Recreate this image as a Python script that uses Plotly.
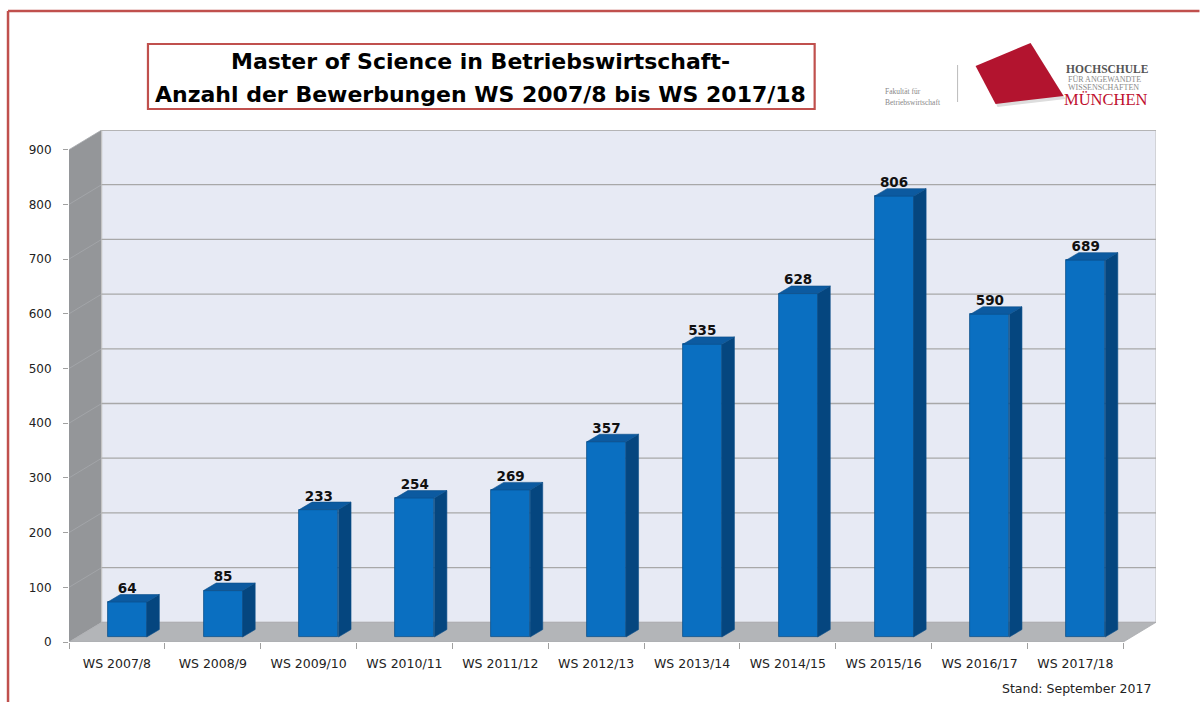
import plotly.graph_objects as go

# ---------------- data ----------------
categories = ["WS 2007/8", "WS 2008/9", "WS 2009/10", "WS 2010/11", "WS 2011/12",
              "WS 2012/13", "WS 2013/14", "WS 2014/15", "WS 2015/16", "WS 2016/17",
              "WS 2017/18"]
applications = [64, 85, 233, 254, 269, 357, 535, 628, 806, 590, 689]
y_ticks = [0, 100, 200, 300, 400, 500, 600, 700, 800, 900]

title_line1 = "Master of Science in Betriebswirtschaft-"
title_line2 = "Anzahl der Bewerbungen WS 2007/8 bis WS 2017/18"
footnote = "Stand: September 2017"

# ---------------- layout geometry / styles ----------------
W, H = 1200, 702
L, R, T, B = 69, 43.5, 130, 60
PW, PH = W - L - R, H - T - B

DEPTH_X = 0.341     # back-wall offset in category units
DEPTH_Y = 36.0      # back-wall offset in value units
Y_TOP = 936.0
BAR_BASE = 9.1      # bars stand mid-floor
BAR_OFF = -0.096
BAR_W = 0.407
SIDE_DX = 0.1315
SIDE_DY = 13.7
LABEL_GAP = 9.0

FRONT = "#0A6FC1"
SIDE = "#05467F"
TOP = "#0C5AA0"
EDGE = "#0B4F8A"
RED = "#C0504D"
FONT = "DejaVu Sans"

def px(x):
    return (x - L) / PW

def py(y):
    return (H - B - y) / PH

idx = list(range(len(categories)))
x_lo, x_hi = -0.5, len(categories) - 0.5

fig = go.Figure()

# front faces
fig.add_trace(go.Bar(
    x=idx, y=applications, base=BAR_BASE, width=BAR_W, offset=BAR_OFF,
    marker=dict(color=FRONT, line=dict(color=EDGE, width=0.8)),
    hoverinfo="skip", showlegend=False))

# side and top faces
sx, sy, tx, ty = [], [], [], []
for i, v in zip(idx, applications):
    xl = i + BAR_OFF
    xr = xl + BAR_W
    top = v + BAR_BASE
    sx += [xr, xr, xr + SIDE_DX, xr + SIDE_DX, xr, None]
    sy += [BAR_BASE, top, top + SIDE_DY, BAR_BASE + SIDE_DY, BAR_BASE, None]
    tx += [xl, xr, xr + SIDE_DX, xl + SIDE_DX, xl, None]
    ty += [top, top, top + SIDE_DY, top + SIDE_DY, top, None]
fig.add_trace(go.Scatter(x=sx, y=sy, mode="lines", fill="toself", fillcolor=SIDE,
                         line=dict(color=EDGE, width=0.6), hoverinfo="skip",
                         showlegend=False))
fig.add_trace(go.Scatter(x=tx, y=ty, mode="lines", fill="toself", fillcolor=TOP,
                         line=dict(color=EDGE, width=0.6), hoverinfo="skip",
                         showlegend=False))

# value labels
fig.add_trace(go.Scatter(
    x=[i + BAR_OFF + BAR_W / 2 for i in idx],
    y=[v + BAR_BASE + SIDE_DY + LABEL_GAP for v in applications],
    mode="text", text=[str(v) for v in applications], textposition="middle center",
    textfont=dict(family=FONT, size=13.5, color="#111111", weight="bold"),
    cliponaxis=False, hoverinfo="skip", showlegend=False))

shapes = []
# left wall
shapes.append(dict(type="path", xref="x", yref="y", layer="below",
                   path=f"M {x_lo},0 L {x_lo},{y_ticks[-1]} L {x_lo+DEPTH_X},{Y_TOP} "
                        f"L {x_lo+DEPTH_X},{DEPTH_Y} Z",
                   fillcolor="#949699", line=dict(width=0)))
# back wall
shapes.append(dict(type="rect", xref="x", yref="y", layer="below",
                   x0=x_lo + DEPTH_X, x1=x_hi + DEPTH_X, y0=DEPTH_Y, y1=Y_TOP,
                   fillcolor="#E7EAF4", line=dict(color="#C4C4C4", width=1.2)))
# floor
shapes.append(dict(type="path", xref="x", yref="y", layer="below",
                   path=f"M {x_lo},0 L {x_hi},0 L {x_hi+DEPTH_X},{DEPTH_Y} "
                        f"L {x_lo+DEPTH_X},{DEPTH_Y} Z",
                   fillcolor="#B3B5B8", line=dict(color="#A9ABAE", width=0.8)))
# gridlines on back wall and left wall
for v in y_ticks[1:]:
    shapes.append(dict(type="line", xref="x", yref="y", layer="below",
                       x0=x_lo + DEPTH_X, x1=x_hi + DEPTH_X, y0=v + DEPTH_Y, y1=v + DEPTH_Y,
                       line=dict(color="#A8A8A8", width=1.3)))
    shapes.append(dict(type="line", xref="x", yref="y", layer="below",
                       x0=x_lo, x1=x_lo + DEPTH_X, y0=v, y1=v + DEPTH_Y,
                       line=dict(color="#A6A8AC", width=0.8)))

# outer slide frame
shapes.append(dict(type="line", xref="paper", yref="paper", x0=px(8), x1=px(8),
                   y0=py(11), y1=py(702), line=dict(color=RED, width=2.5)))
shapes.append(dict(type="line", xref="paper", yref="paper", x0=px(8), x1=px(1200),
                   y0=py(11), y1=py(11), line=dict(color=RED, width=2.5)))
# title box
shapes.append(dict(type="rect", xref="paper", yref="paper", x0=px(148), x1=px(815),
                   y0=py(109), y1=py(44), line=dict(color=RED, width=2.2),
                   fillcolor="white"))
# logo
shapes.append(dict(type="line", xref="paper", yref="paper", x0=px(958), x1=px(958),
                   y0=py(65), y1=py(102), line=dict(color="#BBBBBB", width=1)))
shapes.append(dict(type="path", xref="paper", yref="paper",
                   path=f"M {px(978)},{py(68)} L {px(1033)},{py(46)} L {px(1066)},{py(99)} "
                        f"L {px(998)},{py(107)} Z",
                   fillcolor="#DDDDDD", line=dict(width=0)))
shapes.append(dict(type="path", xref="paper", yref="paper",
                   path=f"M {px(976)},{py(66)} L {px(1031)},{py(43)} L {px(1064)},{py(96)} "
                        f"L {px(996)},{py(104)} Z",
                   fillcolor="#B3142F", line=dict(width=0)))

annotations = [
    dict(x=px(481), y=py(61), text=f"<b>{title_line1}</b>"),
    dict(x=px(481), y=py(94), text=f"<b>{title_line2}</b>"),
]
for a in annotations:
    a.update(xref="paper", yref="paper", showarrow=False, xanchor="center",
             yanchor="middle", font=dict(family=FONT, size=22, color="#000000"))
annotations += [
    dict(x=px(883), y=py(91), text="Fakultät für",
         font=dict(family="Liberation Serif", size=7.5, color="#888888")),
    dict(x=px(883), y=py(102), text="Betriebswirtschaft",
         font=dict(family="Liberation Serif", size=7.5, color="#888888")),
    dict(x=px(1064), y=py(69), text="<b>HOCHSCHULE</b>",
         font=dict(family="Liberation Serif", size=11.5, color="#555555")),
    dict(x=px(1066), y=py(79), text="FÜR ANGEWANDTE",
         font=dict(family="Liberation Serif", size=8, color="#8A8A8A")),
    dict(x=px(1066), y=py(87.5), text="WISSENSCHAFTEN",
         font=dict(family="Liberation Serif", size=8, color="#8A8A8A")),
    dict(x=px(1062), y=py(99), text="MÜNCHEN",
         font=dict(family="Liberation Serif", size=16.5, color="#C0102E")),
    dict(x=px(1153), y=py(688), text=footnote, xanchor="right",
         font=dict(family=FONT, size=12.5, color="#222222")),
]
for a in annotations[2:]:
    a.setdefault("xanchor", "left")
    a.update(xref="paper", yref="paper", showarrow=False, yanchor="middle")

fig.update_layout(
    width=W, height=H,
    margin=dict(l=L, r=R, t=T, b=B, pad=0),
    paper_bgcolor="white", plot_bgcolor="white",
    shapes=shapes, annotations=annotations,
    showlegend=False, bargap=0,
    xaxis=dict(range=[x_lo, x_hi + DEPTH_X], tickmode="array", tickvals=idx,
               ticktext=categories, ticks="", showgrid=False, zeroline=False,
               showline=False, ticklabelstandoff=12,
               tickfont=dict(family=FONT, size=12.5, color="#222222"),
               minor=dict(tickmode="array",
                          tickvals=[i - 0.5 for i in range(len(categories) + 1)],
                          ticks="outside", ticklen=6, tickcolor="#A0A0A0",
                          tickwidth=1, showgrid=False),
               fixedrange=True),
    yaxis=dict(range=[0, Y_TOP], tickmode="array", tickvals=y_ticks, ticks="outside",
               ticklen=5, tickcolor="#A0A0A0", showgrid=False, zeroline=False,
               showline=False, ticklabelstandoff=9,
               tickfont=dict(family=FONT, size=12, color="#222222"),
               fixedrange=True),
)

fig.write_html("out.html", config={"displayModeBar": False},
               post_script="document.body.style.margin='0';"
                           "document.body.style.overflow='hidden';")
